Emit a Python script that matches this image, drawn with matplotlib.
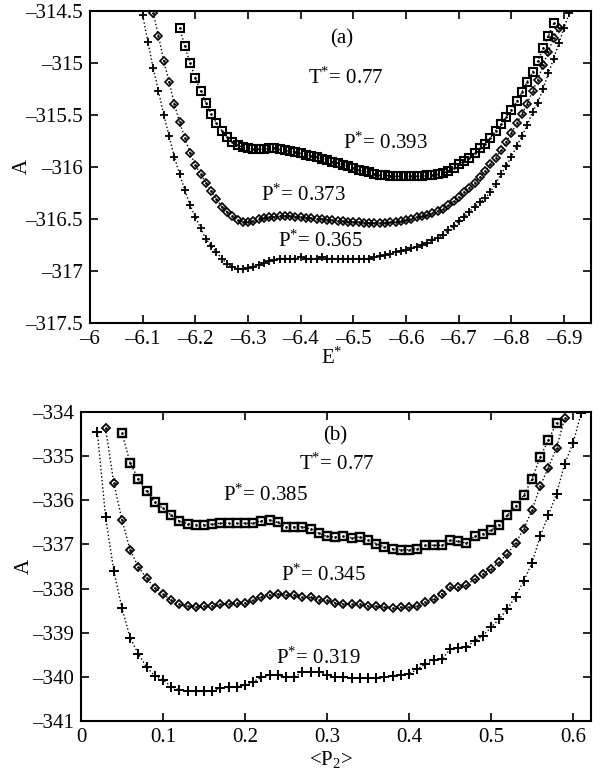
import matplotlib
matplotlib.use("Agg")
import matplotlib.pyplot as plt

plt.rcParams['font.family'] = ['Liberation Serif', 'DejaVu Serif']
plt.rcParams['mathtext.fontset'] = 'custom'
plt.rcParams['mathtext.rm'] = 'Liberation Serif'
plt.rcParams['mathtext.it'] = 'Liberation Serif:italic'

# ---- panel (a): A vs E* ----
E_grid = [-6.10, -6.11, -6.12, -6.13, -6.14, -6.15, -6.16, -6.17, -6.18, -6.19,
          -6.20, -6.21, -6.22, -6.23, -6.24, -6.25, -6.26, -6.27, -6.28, -6.29,
          -6.30, -6.31, -6.32, -6.33, -6.34, -6.35, -6.36, -6.37, -6.38, -6.39,
          -6.40, -6.41, -6.42, -6.43, -6.44, -6.45, -6.46, -6.47, -6.48, -6.49,
          -6.50, -6.51, -6.52, -6.53, -6.54, -6.55, -6.56, -6.57, -6.58, -6.59,
          -6.60, -6.61, -6.62, -6.63, -6.64, -6.65, -6.66, -6.67, -6.68, -6.69,
          -6.70, -6.71, -6.72, -6.73, -6.74, -6.75, -6.76, -6.77, -6.78, -6.79,
          -6.80, -6.81, -6.82, -6.83, -6.84, -6.85, -6.86, -6.87, -6.88, -6.89,
          -6.90, -6.91]

# P* = 0.365 (plus), E* from -6.10 to -6.91
A_a_365 = [-314.54, -314.80, -315.05, -315.27, -315.50, -315.70, -315.90, -316.07, -316.22, -316.37,
           -316.48, -316.59, -316.69, -316.76, -316.82, -316.88, -316.93, -316.96, -316.98, -316.98,
           -316.97, -316.96, -316.94, -316.92, -316.90, -316.89, -316.88, -316.88, -316.88, -316.88,
           -316.87, -316.88, -316.88, -316.88, -316.87, -316.88, -316.88, -316.88, -316.88, -316.88,
           -316.88, -316.88, -316.88, -316.88, -316.87, -316.86, -316.85, -316.84, -316.82, -316.81,
           -316.80, -316.78, -316.77, -316.75, -316.73, -316.70, -316.68, -316.65, -316.61, -316.57,
           -316.52, -316.48, -316.43, -316.38, -316.34, -316.30, -316.24, -316.16, -316.07, -315.99,
           -315.90, -315.80, -315.70, -315.60, -315.47, -315.38, -315.25, -315.10, -314.96, -314.81,
           -314.66, -314.52]

# P* = 0.373 (diamond), E* from -6.12 to -6.89
A_a_373 = [-314.52, -314.74, -314.98, -315.18, -315.39, -315.57, -315.72, -315.87, -315.98, -316.07,
           -316.15, -316.23, -316.31, -316.38, -316.43, -316.47, -316.51, -316.53, -316.53, -316.52,
           -316.50, -316.49, -316.48, -316.48, -316.47, -316.47, -316.47, -316.48, -316.48, -316.49,
           -316.49, -316.50, -316.50, -316.51, -316.51, -316.52, -316.52, -316.53, -316.53, -316.53,
           -316.54, -316.54, -316.54, -316.54, -316.54, -316.53, -316.53, -316.52, -316.51, -316.50,
           -316.48, -316.47, -316.46, -316.44, -316.42, -316.40, -316.37, -316.33, -316.29, -316.24,
           -316.20, -316.15, -316.10, -316.04, -315.97, -315.91, -315.84, -315.76, -315.67, -315.58,
           -315.49, -315.39, -315.27, -315.16, -315.02, -314.89, -314.76, -314.66]

# P* = 0.393 (square), E* from -6.17 to -6.88
A_a_393 = [-314.66, -314.84, -315.00, -315.14, -315.27, -315.38, -315.49, -315.58, -315.65, -315.71,
           -315.76, -315.79, -315.81, -315.82, -315.83, -315.83, -315.83, -315.82, -315.82, -315.83,
           -315.84, -315.85, -315.86, -315.87, -315.88, -315.89, -315.90, -315.92, -315.93, -315.95,
           -315.96, -315.98, -315.99, -316.01, -316.03, -316.04, -316.05, -316.07, -316.08, -316.08,
           -316.09, -316.09, -316.09, -316.09, -316.09, -316.09, -316.09, -316.08, -316.08, -316.07,
           -316.06, -316.04, -316.01, -315.97, -315.94, -315.91, -315.87, -315.82, -315.78, -315.72,
           -315.65, -315.59, -315.52, -315.45, -315.37, -315.28, -315.18, -315.09, -314.98, -314.86,
           -314.74, -314.62]

E_365 = E_grid[0:82]
E_373 = E_grid[2:80]
E_393 = E_grid[7:79]

# ---- panel (b): A vs <P2> ----
P2_grid = [0.02, 0.03, 0.04, 0.05, 0.06, 0.07, 0.08, 0.09, 0.10, 0.11,
           0.12, 0.13, 0.14, 0.15, 0.16, 0.17, 0.18, 0.19, 0.20, 0.21,
           0.22, 0.23, 0.24, 0.25, 0.26, 0.27, 0.28, 0.29, 0.30, 0.31,
           0.32, 0.33, 0.34, 0.35, 0.36, 0.37, 0.38, 0.39, 0.40, 0.41,
           0.42, 0.43, 0.44, 0.45, 0.46, 0.47, 0.48, 0.49, 0.50, 0.51,
           0.52, 0.53, 0.54, 0.55, 0.56, 0.57, 0.58, 0.59, 0.60, 0.61]

# P* = 0.319 (plus), <P2> from 0.02 to 0.61
A_b_319 = [-334.46, -336.38, -337.60, -338.45, -339.12, -339.48, -339.78, -339.98, -340.07, -340.22,
           -340.30, -340.33, -340.33, -340.33, -340.33, -340.26, -340.24, -340.22, -340.19, -340.11,
           -340.01, -339.96, -339.96, -340.01, -340.00, -339.90, -339.88, -339.89, -339.95, -340.01,
           -340.01, -340.03, -340.03, -340.03, -340.03, -340.01, -339.99, -339.96, -339.93, -339.83,
           -339.71, -339.62, -339.60, -339.38, -339.35, -339.33, -339.18, -339.07, -338.88, -338.69,
           -338.46, -338.18, -337.83, -337.42, -336.82, -336.34, -335.85, -335.17, -334.71, -334.03]

# P* = 0.345 (diamond), <P2> from 0.03 to 0.59
A_b_345 = [-334.37, -335.61, -336.45, -337.13, -337.51, -337.77, -337.98, -338.12, -338.27, -338.36,
           -338.40, -338.41, -338.40, -338.39, -338.36, -338.34, -338.33, -338.32, -338.27, -338.18,
           -338.14, -338.12, -338.14, -338.14, -338.20, -338.20, -338.25, -338.27, -338.32, -338.34,
           -338.35, -338.36, -338.39, -338.40, -338.42, -338.45, -338.42, -338.42, -338.39, -338.31,
           -338.23, -338.12, -337.97, -337.97, -337.93, -337.78, -337.67, -337.55, -337.40, -337.21,
           -336.97, -336.64, -336.23, -335.68, -335.26, -334.81, -334.14]

# P* = 0.385 (square), <P2> from 0.05 to 0.58
A_b_385 = [-334.48, -335.16, -335.52, -335.80, -336.05, -336.18, -336.34, -336.47, -336.53, -336.55,
           -336.55, -336.54, -336.52, -336.52, -336.52, -336.52, -336.52, -336.46, -336.45, -336.50,
           -336.60, -336.60, -336.60, -336.65, -336.75, -336.82, -336.83, -336.82, -336.85, -336.83,
           -336.90, -336.98, -337.06, -337.10, -337.12, -337.12, -337.10, -337.02, -337.02, -337.02,
           -336.91, -336.93, -336.97, -336.82, -336.76, -336.68, -336.55, -336.34, -336.14, -335.89,
           -335.52, -335.02, -334.64, -334.24]

P2_319 = P2_grid[0:60]
P2_345 = P2_grid[1:58]
P2_385 = P2_grid[3:57]

xticks_a = [-6, -6.1, -6.2, -6.3, -6.4, -6.5, -6.6, -6.7, -6.8, -6.9]
yticks_a = [-314.5, -315, -315.5, -316, -316.5, -317, -317.5]
xticks_b = [0, 0.1, 0.2, 0.3, 0.4, 0.5, 0.6]
yticks_b = [-334, -335, -336, -337, -338, -339, -340, -341]


def fmt(v):
  s = '%g' % v
  return s.replace('-', '\u2013')


def draw_series(ax, x, y, marker, ms, mew):
  ax.plot(x, y, color='black', linestyle=':', linewidth=1.0,
          marker=marker, markersize=ms, markerfacecolor='none',
          markeredgecolor='black', markeredgewidth=mew)
  if marker != '+':
    ax.plot(x, y, linestyle='none', marker='.', markersize=1.8, color='black')


def style_axes(ax, xt, yt):
  ax.set_xticks(xt)
  ax.set_xticklabels([fmt(v) for v in xt])
  ax.set_yticks(yt)
  ax.set_yticklabels([fmt(v) for v in yt])
  ax.tick_params(direction='in', top=True, right=True, length=6, width=1.2,
                 labelsize=15, pad=5)
  for sp in ax.spines.values():
    sp.set_linewidth(1.5)


fig = plt.figure(figsize=(6.05, 7.74), dpi=100)

ax1 = fig.add_axes([90 / 605, 1 - 323 / 774, (591 - 90) / 605, (323 - 11) / 774])
draw_series(ax1, E_393, A_a_393, 's', 5.8, 1.5)
draw_series(ax1, E_373, A_a_373, 'D', 3.8, 1.2)
draw_series(ax1, E_365, A_a_365, '+', 6, 1.3)
ax1.set_xlim(-6, -6.951)
ax1.set_ylim(-317.5, -314.5)
style_axes(ax1, xticks_a, yticks_a)

ax2 = fig.add_axes([81 / 605, 1 - 721 / 774, (591 - 81) / 605, (721 - 412) / 774])
draw_series(ax2, P2_385, A_b_385, 's', 6.4, 1.7)
draw_series(ax2, P2_345, A_b_345, 'D', 4.3, 1.3)
draw_series(ax2, P2_319, A_b_319, '+', 7, 1.4)
ax2.set_xlim(0, 0.622)
ax2.set_ylim(-341, -334)
style_axes(ax2, xticks_b, yticks_b)


def ftext(px, py, s, size=15):
  fig.text(px / 605, 1 - py / 774, s, ha='center', va='center', fontsize=size)


# panel (a) labels
ftext(342, 39, '(a)')
ftext(346, 78, r'T$^{*}$= 0.77')
ftext(385, 143, r'P$^{*}$= 0.393')
ftext(303, 195, r'P$^{*}$= 0.373')
ftext(320, 241, r'P$^{*}$= 0.365')
ftext(332, 358, r'E$^{*}$')
fig.text(22 / 605, 1 - 166 / 774, 'A', ha='center', va='center', fontsize=15, rotation=90)

# panel (b) labels
ftext(335, 436, '(b)')
ftext(337, 464, r'T$^{*}$= 0.77')
ftext(265, 495, r'P$^{*}$= 0.385')
ftext(323, 575, r'P$^{*}$= 0.345')
ftext(318, 658, r'P$^{*}$= 0.319')
ftext(331, 759, r'<P$_2$>')
fig.text(24 / 605, 1 - 566 / 774, 'A', ha='center', va='center', fontsize=15, rotation=90)

fig.savefig('out.png', dpi=100)
